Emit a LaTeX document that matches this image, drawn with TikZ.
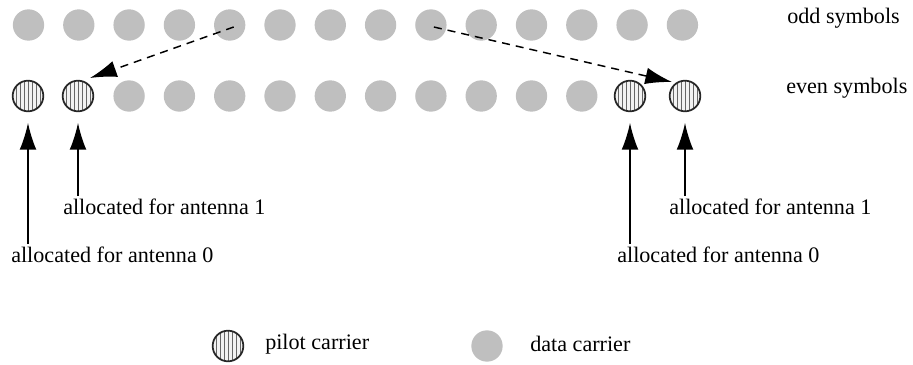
\documentclass[tikz,border=0pt]{standalone}
\usepackage{fontspec}
\setmainfont{Liberation Serif}
\usetikzlibrary{arrows.meta,calc}

\begin{document}
\begin{tikzpicture}[x=0.75pt, y=-0.75pt,
  every node/.style={font=\fontsize{16.6}{20}\selectfont},
  data/.style={circle, fill=black!25, minimum size=23.5pt, inner sep=0pt},
  pilot/.style={circle, draw=black!85, line width=1.3pt, minimum size=23pt, inner sep=0pt, fill=black!5,
    path picture={\foreach \k in {-9,-6,...,9}
      \draw[black!60, line width=0.7pt] ([xshift=\k pt]path picture bounding box.south) -- ([xshift=\k pt]path picture bounding box.north);}},
  lab/.style={anchor=west, inner sep=0pt},
  up/.style={-{Latex[length=20pt,width=12.5pt]}, line width=1.1pt, shorten >=8pt, shorten <=2pt},
  hop/.style={-{Latex[length=20pt,width=12.5pt]}, dash pattern=on 6pt off 4.5pt, line width=1.1pt}]
  \useasboundingbox (0,0) rectangle (913,364);

  % odd and even rows
  \foreach \i in {1,...,14}
    \node[data] (o\i) at ({28.5+50.3*(\i-1)},25) {};
  \foreach \i in {3,...,12}
    \node[data] (e\i) at ({28.5+50.3*(\i-1)},96) {};
  \foreach \i/\x in {1/28,2/78,13/630,14/685}
    \node[pilot] (e\i) at (\x,96) {};

  \node[lab] (odd) at (787,18) {odd symbols};
  \node[lab] (even) at (786,88) {even symbols};

  % antenna labels
  \node[lab] (l1) at (63,207) {allocated for antenna 1};
  \node[lab] (l0) at (11,255) {allocated for antenna 0};
  \node[lab] (r1) at (669,207) {allocated for antenna 1};
  \node[lab] (r0) at (617,255) {allocated for antenna 0};

  \draw[up] (e1 |- l0.north) -- (e1);
  \draw[up] (e2 |- l1.north) -- (e2);
  \draw[up] (e13 |- r0.north) -- (e13);
  \draw[up] (e14 |- r1.north) -- (e14);

  \draw[hop] ($(o5.center)+(4,2)$) -- ($(e2.center)+(12,-18)$);
  \draw[hop] ($(o9.center)+(3,2)$) -- ($(e14.center)+(-13,-14)$);

  % legend
  \node[pilot] (kp) at (228,346) {};
  \node[lab] (kpt) at (265,344) {pilot carrier};
  \node[data] (kd) at (487,346) {};
  \node[lab] (kdt) at (530,344) {data carrier};
\end{tikzpicture}
\end{document}
